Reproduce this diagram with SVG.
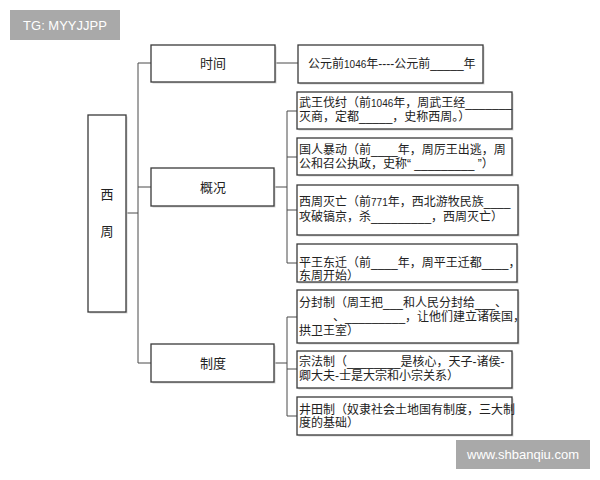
<svg xmlns="http://www.w3.org/2000/svg" width="600" height="480" viewBox="0 0 600 480">
<style>
.box{fill:#fff;stroke:#3a3a3a;stroke-width:1.3}
.sh{fill:#d4d4d4}
.ln{stroke:#4a4a4a;stroke-width:1;fill:none}
text{font-family:"Liberation Sans","Noto Sans CJK SC",sans-serif;fill:#222}
.t{font-size:12px}
.c{font-size:13px;text-anchor:middle}
.d{font-size:10px}
.wm{fill:#a9a9a9}
.wt{fill:#fff;font-size:13px;text-anchor:middle}
</style>
<rect width="600" height="480" fill="#fff"/>
<g id="tg"><rect class="wm" x="10" y="10" width="110" height="30"/><text class="wt" x="65" y="30">TG: MYYJJPP</text></g>
<g id="connectors">
<path class="ln" d="M126 213H138M138 63V363M138 63H151M138 187H151M138 363H151M275 63H298"/>
<path class="ln" d="M274 187H287M287 111V263M287 111H297M287 157H297M287 210H297M287 263H297"/>
<path class="ln" d="M274 363H287M287 317V416M287 317H297M287 369H297M287 416H297"/>
</g>
<g id="xizhou"><rect class="sh" x="89.5" y="116.5" width="38" height="197"/><rect class="box" x="88" y="115" width="38" height="197"/><text class="c" x="107" y="199">西</text><text class="c" x="107" y="236">周</text></g>
<g id="shijian"><rect class="sh" x="152.5" y="46.5" width="124" height="37"/><rect class="box" x="151" y="45" width="124" height="37"/><text class="c" x="213" y="68">时间</text></g>
<g id="gaikuang"><rect class="sh" x="152.5" y="169.5" width="123" height="38"/><rect class="box" x="151" y="168" width="123" height="38"/><text class="c" x="213" y="192">概况</text></g>
<g id="zhidu"><rect class="sh" x="152.5" y="345.5" width="123" height="38"/><rect class="box" x="151" y="344" width="123" height="38"/><text class="c" x="213" y="368">制度</text></g>
<g id="time"><rect class="sh" x="299.5" y="46.5" width="185" height="38"/><rect class="box" x="298" y="45" width="185" height="38"/><text class="t" x="308" y="68">公元前<tspan class="d">1046</tspan>年----公元前_____年</text></g>
<g id="wuwang"><rect class="sh" x="298.5" y="93.5" width="215" height="37"/><rect class="box" x="297" y="92" width="215" height="37"/><text class="t" x="299" y="107">武王伐纣（前<tspan class="d">1046</tspan>年，周武王经_______</text><text class="t" x="299" y="121">灭商，定都_____，史称西周。）</text></g>
<g id="guoren"><rect class="sh" x="298.5" y="139.5" width="215" height="37"/><rect class="box" x="297" y="138" width="215" height="37"/><text class="t" x="299" y="154">国人暴动（前____年，周厉王出逃，周</text><text class="t" x="299" y="168">公和召公执政，史称“ _________ ”）</text></g>
<g id="miewang"><rect class="sh" x="298.5" y="186.5" width="221" height="50"/><rect class="box" x="297" y="185" width="221" height="50"/><text class="t" x="299" y="206">西周灭亡（前<tspan class="d">771</tspan>年，西北游牧民族____</text><text class="t" x="299" y="221">攻破镐京，杀_________，西周灭亡）</text></g>
<g id="pingwang"><rect class="sh" x="298.5" y="245.5" width="220" height="38"/><rect class="box" x="297" y="244" width="220" height="38"/><text class="t" x="299" y="267">平王东迁（前____年，周平王迁都____，</text><text class="t" x="299" y="280">东周开始）</text></g>
<g id="fenfeng"><rect class="sh" x="298.5" y="291.5" width="221" height="53"/><rect class="box" x="297" y="290" width="221" height="53"/><text class="t" x="299" y="307">分封制（周王把___和人民分封给___、</text><text class="t" x="333" y="321">、_________，让他们建立诸侯国，</text><text class="t" x="299" y="335">拱卫王室）</text></g>
<g id="zongfa"><rect class="sh" x="298.5" y="352.5" width="215" height="37"/><rect class="box" x="297" y="351" width="215" height="37"/><text class="t" x="299" y="366">宗法制（________是核心，天子-诸侯-</text><text class="t" x="299" y="380">卿大夫-士是大宗和小宗关系）</text></g>
<g id="jingtian"><rect class="sh" x="298.5" y="398.5" width="215" height="38"/><rect class="box" x="297" y="397" width="215" height="38"/><text class="t" x="299" y="414">井田制（奴隶社会土地国有制度，三大制</text><text class="t" x="299" y="427">度的基础）</text></g>
<g id="wm2"><rect class="wm" x="456" y="440" width="134" height="29"/><text class="wt" x="523" y="459">www.shbanqiu.com</text></g>
</svg>
